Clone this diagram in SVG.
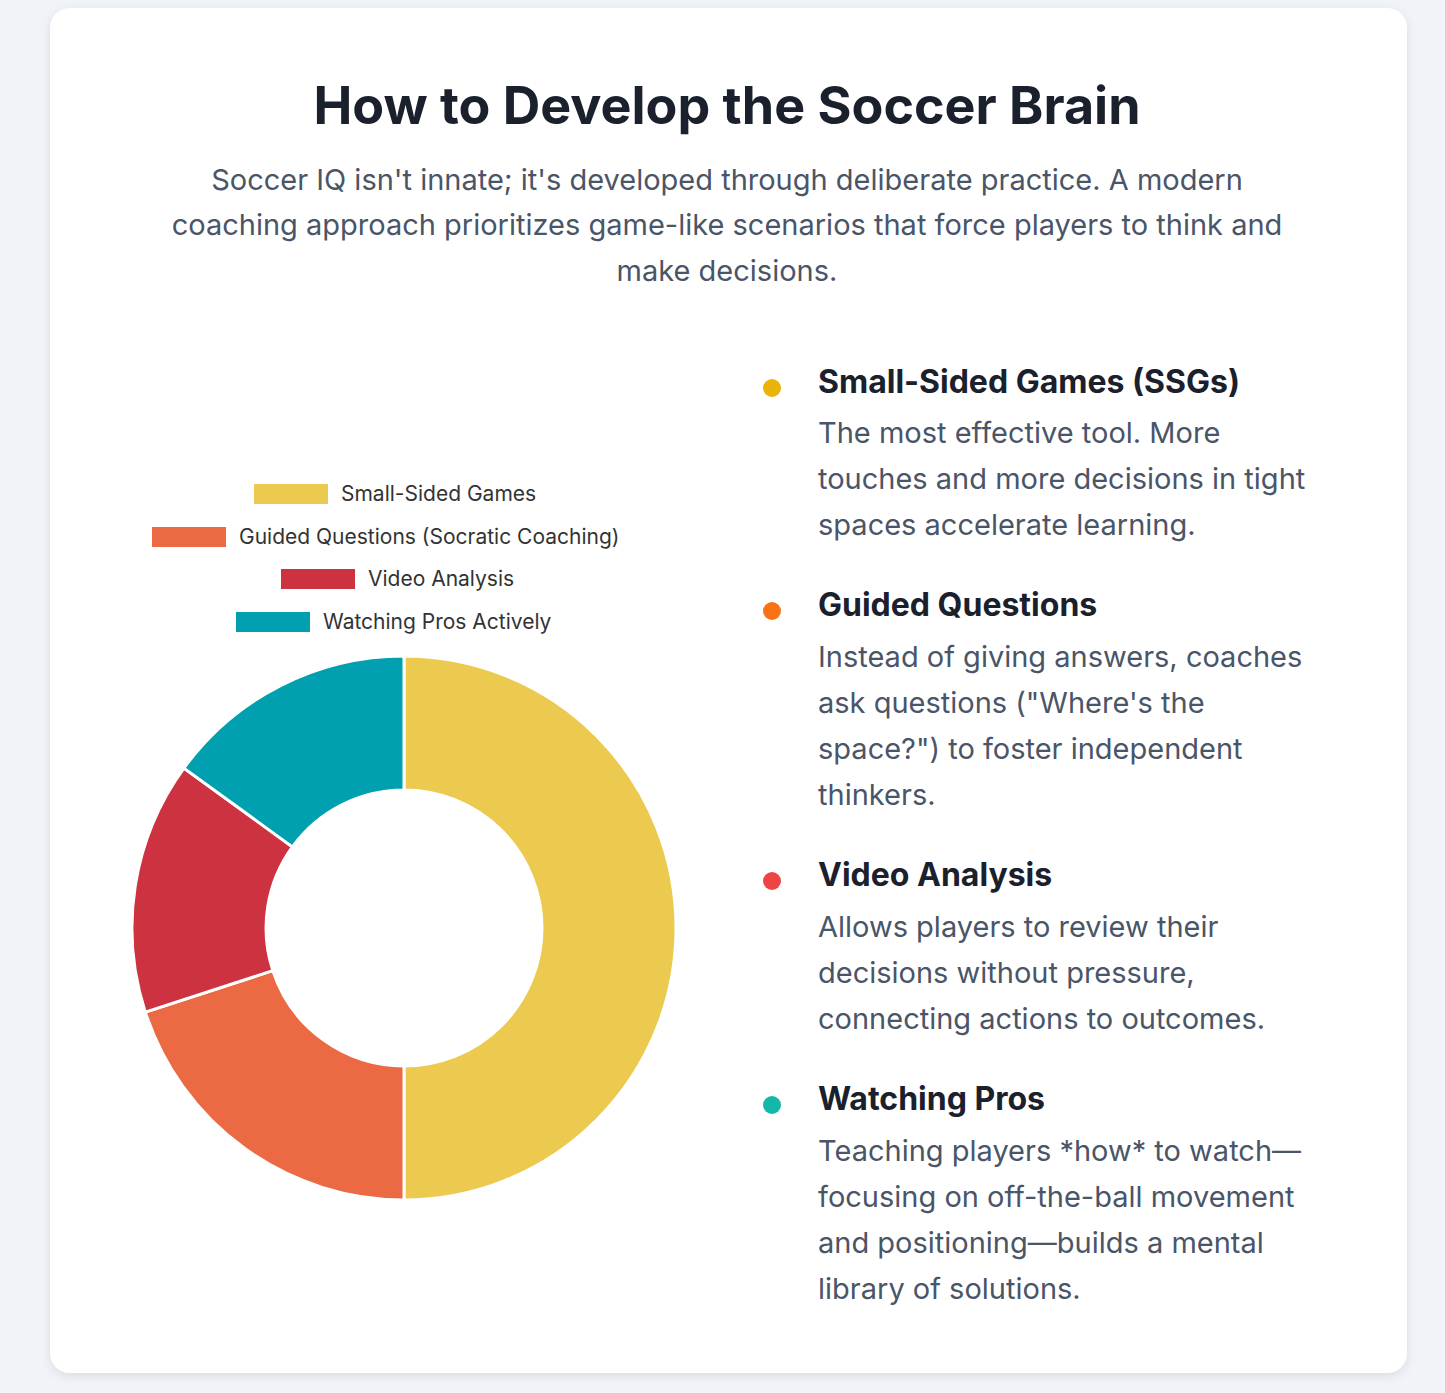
<svg xmlns="http://www.w3.org/2000/svg" width="1445" height="1393" viewBox="0 0 1445 1393">
<style>
text{font-family:Inter,"Noto Sans","Liberation Sans",sans-serif}
.sub{font-size:29px;fill:#4a5568;text-anchor:middle}
.lg{font-size:21px;fill:#333}
.h{font-size:32px;font-weight:bold;fill:#1a202c}
.b{font-size:29px;fill:#4a5568}
.seg{stroke:#fff;stroke-width:3}
</style>
<defs><filter id="sh" x="-5%" y="-5%" width="110%" height="110%"><feDropShadow dx="0" dy="3" stdDeviation="5" flood-opacity="0.1"/></filter></defs>
<rect width="1445" height="1393" fill="#F0F4F8"/>
<rect x="50" y="8" width="1357" height="1365" rx="20" fill="#fff" filter="url(#sh)"/>
<text x="727" y="124" text-anchor="middle" font-size="52" font-weight="bold" fill="#1a202c">How to Develop the Soccer Brain</text>
<text class="sub" x="727" y="190">Soccer IQ isn't innate; it's developed through deliberate practice. A modern</text>
<text class="sub" x="727" y="235">coaching approach prioritizes game-like scenarios that force players to think and</text>
<text class="sub" x="727" y="281">make decisions.</text>
<g id="legend">
<rect x="254" y="484" width="74" height="20" fill="#ECC94F"/><text class="lg" x="341" y="501">Small-Sided Games</text>
<rect x="152" y="527" width="74" height="20" fill="#EC6A43"/><text class="lg" x="239" y="544">Guided Questions (Socratic Coaching)</text>
<rect x="281" y="569" width="74" height="20" fill="#CD3240"/><text class="lg" x="368" y="586">Video Analysis</text>
<rect x="236" y="612" width="74" height="20" fill="#00A0B0"/><text class="lg" x="323" y="629">Watching Pros Actively</text>
</g>
<g id="donut">
<path class="seg" fill="#ECC94F" d="M404 656 A272 272 0 0 1 404 1200 L404 1066 A138 138 0 0 0 404 790 Z"/>
<path class="seg" fill="#EC6A43" d="M404 1200 A272 272 0 0 1 145.3 1012.1 L272.8 970.6 A138 138 0 0 0 404 1066 Z"/>
<path class="seg" fill="#CD3240" d="M145.3 1012.1 A272 272 0 0 1 183.9 768.1 L292.4 846.9 A138 138 0 0 0 272.8 970.6 Z"/>
<path class="seg" fill="#00A0B0" d="M183.9 768.1 A272 272 0 0 1 404 656 L404 790 A138 138 0 0 0 292.4 846.9 Z"/>
</g>
<g id="item1"><circle cx="772" cy="388" r="9" fill="#EAB308"/>
<text class="h" x="818" y="393">Small-Sided Games (SSGs)</text>
<text class="b" x="818" y="443">The most effective tool. More</text>
<text class="b" x="818" y="489">touches and more decisions in tight</text>
<text class="b" x="818" y="535">spaces accelerate learning.</text></g>
<g id="item2"><circle cx="772" cy="611" r="9" fill="#F97316"/>
<text class="h" x="818" y="616">Guided Questions</text>
<text class="b" x="818" y="667">Instead of giving answers, coaches</text>
<text class="b" x="818" y="713">ask questions ("Where's the</text>
<text class="b" x="818" y="759">space?") to foster independent</text>
<text class="b" x="818" y="805">thinkers.</text></g>
<g id="item3"><circle cx="772" cy="881" r="9" fill="#EF4444"/>
<text class="h" x="818" y="886">Video Analysis</text>
<text class="b" x="818" y="937">Allows players to review their</text>
<text class="b" x="818" y="983">decisions without pressure,</text>
<text class="b" x="818" y="1029">connecting actions to outcomes.</text></g>
<g id="item4"><circle cx="772" cy="1105" r="9" fill="#14B8A6"/>
<text class="h" x="818" y="1110">Watching Pros</text>
<text class="b" x="818" y="1161">Teaching players *how* to watch—</text>
<text class="b" x="818" y="1207">focusing on off-the-ball movement</text>
<text class="b" x="818" y="1253">and positioning—builds a mental</text>
<text class="b" x="818" y="1299">library of solutions.</text></g>
</svg>
